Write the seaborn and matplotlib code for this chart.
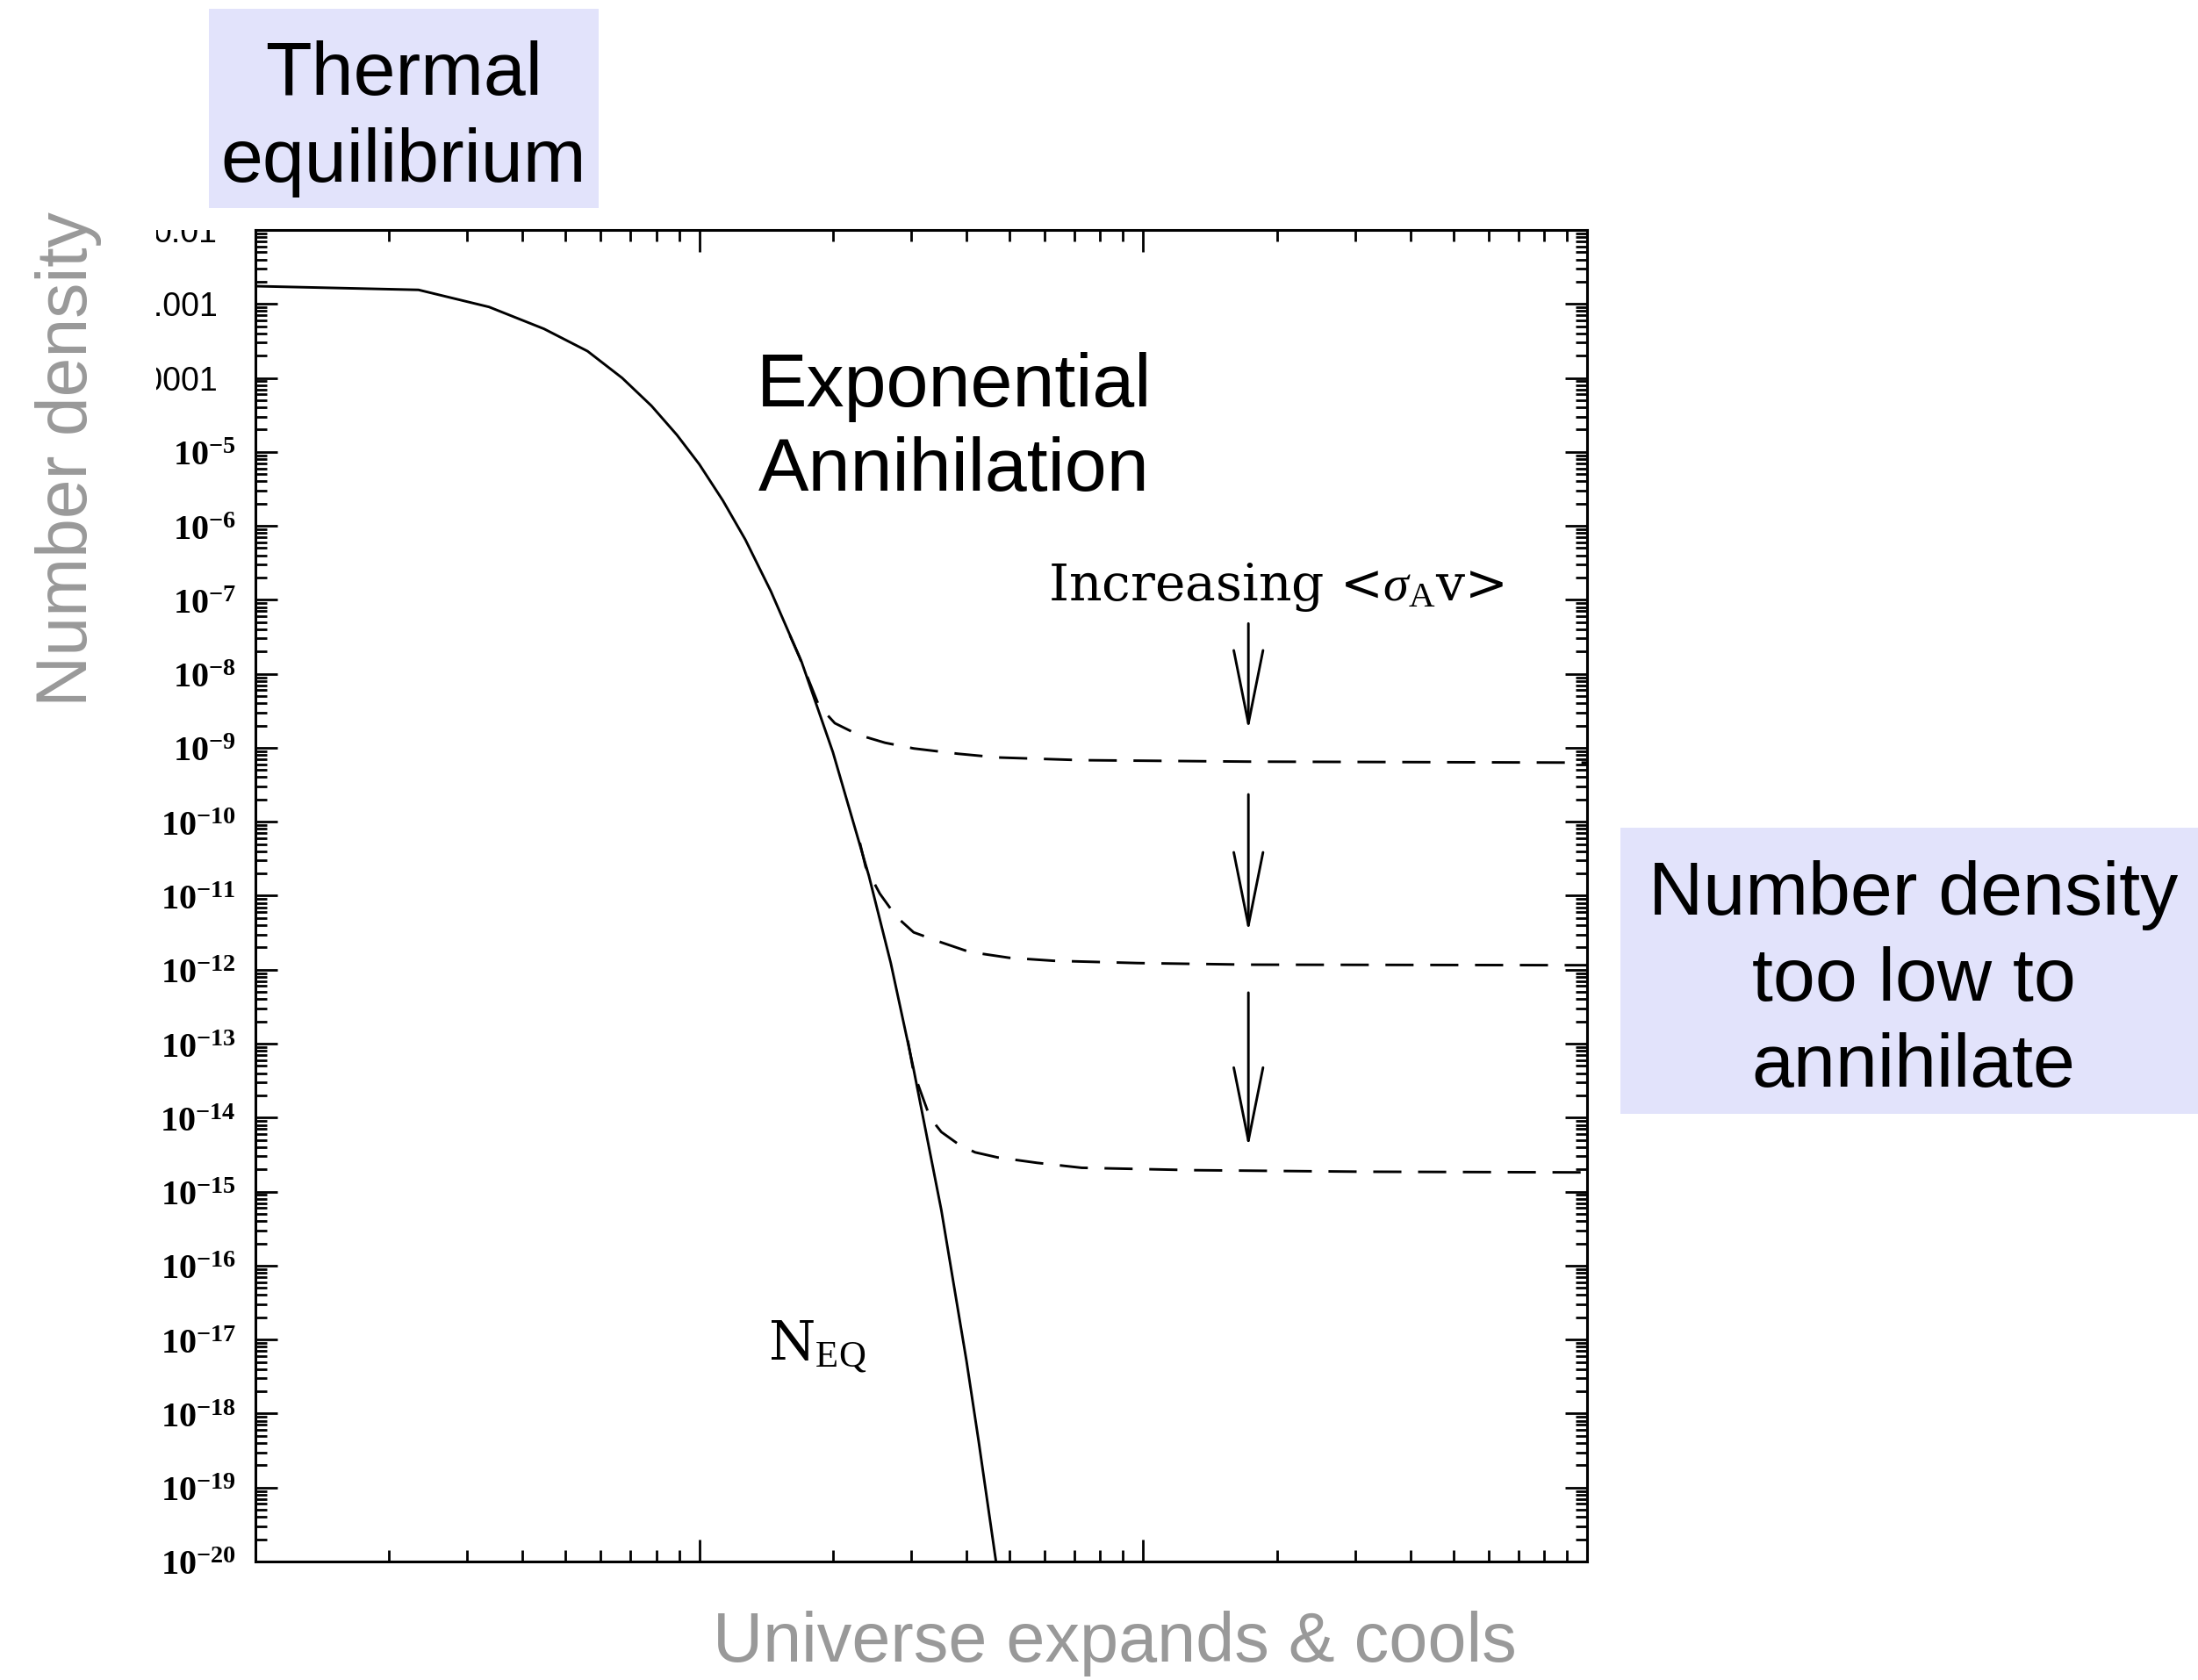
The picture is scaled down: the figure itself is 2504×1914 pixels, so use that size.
import numpy as np
import pandas as pd
import matplotlib
matplotlib.use("Agg")
import matplotlib.pyplot as plt
import matplotlib.ticker as mticker
from matplotlib.patches import Rectangle
from matplotlib.transforms import Bbox, TransformedBbox
import seaborn as sns

# ---------------- data ----------------
neq_x = [1.0, 2.33, 3.36, 4.47, 5.6, 6.7, 7.8, 8.9, 10.0, 11.3, 12.7, 14.5, 17.0,
         20.0, 24.1, 27.0, 30.4, 35.1, 40.0, 42.6, 46.6]
neq_y = [1.74e-3, 1.55e-3, 9.1e-4, 4.6e-4, 2.3e-4, 1.0e-4, 4.2e-5, 1.7e-5, 6.8e-6,
         2.2e-6, 6.5e-7, 1.3e-7, 1.45e-8, 8.7e-10, 1.86e-11, 1.23e-12, 4.5e-14,
         5.6e-16, 5.1e-18, 4.2e-19, 1.0e-20]

fo1_x = [16.0, 16.8, 18.6, 20.2, 22.8, 26.2, 30.4, 38.3, 47.0, 72.7, 173.0, 1000.0]
fo1_y = [3.3e-8, 1.7e-8, 3.7e-9, 2.15e-9, 1.5e-9, 1.17e-9, 9.8e-10, 8.3e-10, 7.4e-10,
         6.8e-10, 6.5e-10, 6.3e-10]

fo2_x = [23.0, 23.7, 25.5, 27.8, 30.4, 35.1, 40.6, 49.9, 62.9, 96.9, 173.0, 1000.0]
fo2_y = [5.2e-11, 2.45e-11, 1.07e-11, 5.2e-12, 3.2e-12, 2.34e-12, 1.74e-12, 1.45e-12,
         1.32e-12, 1.23e-12, 1.17e-12, 1.15e-12]

fo3_x = [29.5, 30.4, 33.1, 35.1, 38.3, 41.8, 47.0, 57.7, 72.7, 130.0, 310.0, 1000.0]
fo3_y = [1.1e-13, 4.1e-14, 1.0e-14, 6.4e-15, 4.4e-15, 3.4e-15, 2.9e-15, 2.45e-15,
         2.1e-15, 1.95e-15, 1.86e-15, 1.82e-15]

ytick_values = [10.0 ** (-k) for k in range(2, 21)]
ytick_labels = ["0.01", "0.001", "0.0001"] + [r"$\mathbf{10^{-%d}}$" % k for k in range(5, 21)]

# ---------------- style ----------------
sns.set_theme(style="ticks")
plt.rcParams["font.family"] = ["DejaVu Sans"]
plt.rcParams["mathtext.fontset"] = "custom"
plt.rcParams["mathtext.rm"] = "Liberation Serif"
plt.rcParams["mathtext.bf"] = "Liberation Serif:bold"
plt.rcParams["mathtext.it"] = "Liberation Serif:italic"

W, H = 2504, 1914
fig = plt.figure(figsize=(W / 100, H / 100), dpi=100)
fig.patch.set_facecolor("white")

L, R, T, B = 291, 1808, 262, 1779
ax = fig.add_axes([L / W, 1 - B / H, (R - L) / W, (B - T) / H])
ax.set_facecolor("white")
ax.set_xscale("log")
ax.set_yscale("log")

lw = 2.1
df = pd.DataFrame({"x": neq_x, "y": neq_y})
sns.lineplot(data=df, x="x", y="y", ax=ax, color="black", lw=lw, estimator=None)
for xs, ys in [(fo1_x, fo1_y), (fo2_x, fo2_y), (fo3_x, fo3_y)]:
    d = pd.DataFrame({"x": xs, "y": ys})
    sns.lineplot(data=d, x="x", y="y", ax=ax, color="black", lw=lw, estimator=None,
                 linestyle=(0, (11, 6.5)))

ax.set_xlim(1, 1000)
ax.set_ylim(1e-20, 1e-2)
ax.set_xlabel("")
ax.set_ylabel("")

ax.xaxis.set_major_locator(mticker.LogLocator(base=10, numticks=50))
ax.xaxis.set_minor_locator(mticker.LogLocator(base=10, subs=np.arange(2, 10), numticks=50))
ax.xaxis.set_major_formatter(mticker.NullFormatter())
ax.xaxis.set_minor_formatter(mticker.NullFormatter())
ax.yaxis.set_major_locator(mticker.FixedLocator(ytick_values))
ax.yaxis.set_minor_locator(mticker.LogLocator(base=10, subs=np.arange(2, 10), numticks=100))
ax.yaxis.set_major_formatter(mticker.FixedFormatter(ytick_labels))
ax.yaxis.set_minor_formatter(mticker.NullFormatter())

ax.tick_params(which="both", direction="in", top=True, right=True, color="black", width=2.0)
ax.tick_params(which="major", length=18)
ax.tick_params(which="minor", length=9.5)
ax.tick_params(axis="y", which="major", pad=16, labelsize=29, labelcolor="black")
for sp in ax.spines.values():
    sp.set_linewidth(2.2)
    sp.set_color("black")
    sp.set_visible(True)

# arrows and in-plot annotations
arrow_x = 172.6
arrow_spans = [(10 ** -7.32, 10 ** -8.76), (10 ** -9.63, 10 ** -11.49), (10 ** -12.31, 10 ** -14.40)]
for top, tip in arrow_spans:
    ax.annotate("", xy=(arrow_x, tip), xytext=(arrow_x, top),
                arrowprops=dict(arrowstyle="->,head_length=3.0,head_width=0.6",
                                lw=2.1, color="black", shrinkA=0, shrinkB=0,
                                mutation_scale=20))

fig.text(1453 / W, 1 - 684 / H, r"Increasing <$\sigma_{\rm A}$v>", family="DejaVu Serif",
         fontsize=42, ha="center", va="baseline", color="black")
fig.text(875 / W, 1 - 1549 / H, r"N$_{\rm EQ}$", family="DejaVu Serif",
         fontsize=44, ha="left", va="baseline", color="black")

# ---------------- slide annotations ----------------
box_color = "#E2E3FB"
boxes = [(238, 10, 682, 237), (837, 361, 1337, 586), (1846, 943, 2504, 1269)]
for x0, y0, x1, y1 in boxes:
    fig.add_artist(Rectangle((x0 / W, 1 - y1 / H), (x1 - x0) / W, (y1 - y0) / H,
                             transform=fig.transFigure, facecolor=box_color,
                             edgecolor="none", zorder=0))

big = dict(family="Liberation Sans", fontsize=62, ha="center", va="baseline",
           color="black")
fig.text(460 / W, 1 - 108 / H, "Thermal", **big)
fig.text(460 / W, 1 - 207 / H, "equilibrium", **big)
fig.text(1087 / W, 1 - 463 / H, "Exponential", **big)
fig.text(1087 / W, 1 - 559 / H, "Annihilation", **big)
fig.text(2180 / W, 1 - 1042 / H, "Number density", **big)
fig.text(2180 / W, 1 - 1140 / H, "too low to", **big)
fig.text(2180 / W, 1 - 1238 / H, "annihilate", **big)

gray = "#999999"
fig.text(1270 / W, 1 - 1893 / H, "Universe expands & cools", family="Liberation Sans",
         fontsize=57, ha="center", va="baseline", color=gray)
fig.text(99 / W, 1 - 523 / H, "Number density", family="Liberation Sans",
         fontsize=58, ha="center", va="baseline", color=gray, rotation=90,
         rotation_mode="anchor")

# clip y tick labels like the cropped picture
fig.canvas.draw()
clip = TransformedBbox(Bbox.from_extents(178 / W, 0, 1, 1 - 262 / H), fig.transFigure)
for i, tk in enumerate(ax.yaxis.get_major_ticks()):
    if i < 3:
        tk.set_pad(31)
    lab = tk.label1
    if i < 3:
        lab.set_fontfamily("Liberation Sans")
        lab.set_fontsize(27)
    lab.set_clip_on(True)
    lab.set_clip_box(clip)

fig.savefig("out.png", dpi=100, facecolor="white")
